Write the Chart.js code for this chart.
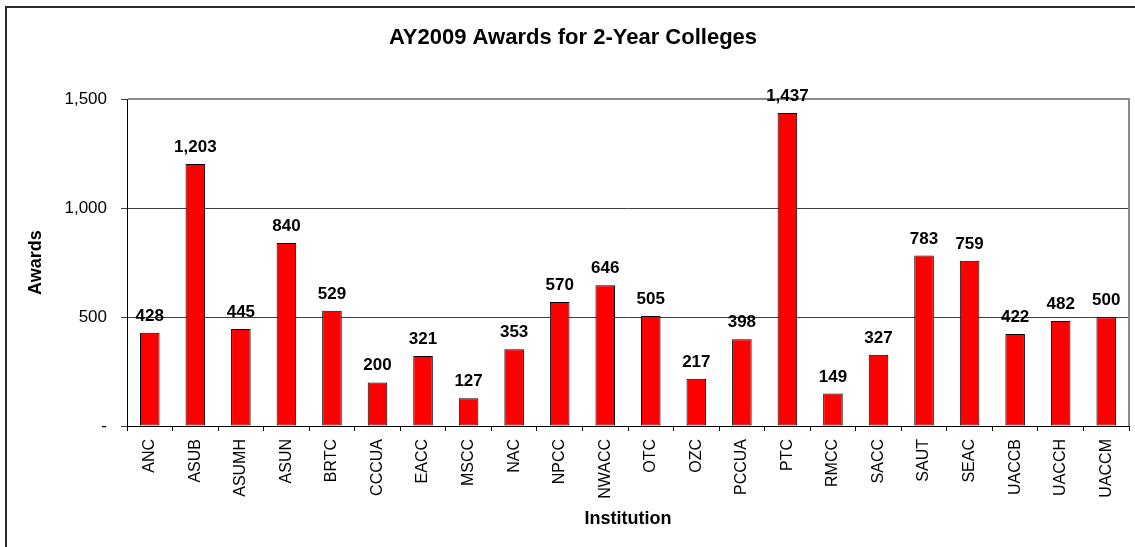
<!DOCTYPE html>
<html lang="en">
    <head>
        <meta charset="UTF-8">
        <title>AY2009 Awards for 2-Year Colleges</title>
        <script src="https://cdnjs.cloudflare.com/ajax/libs/Chart.js/4.4.1/chart.umd.min.js"></script>
        <style>
            html, body {
                margin: 0;
                padding: 0;
                background: #fff;
                overflow: hidden;
            }
            .frame {
                position: absolute;
                left: 5px;
                top: 6px;
                width: 1200px;
                height: 600px;
                border-left: 2px solid #2a2a2a;
                border-top: 2px solid #2a2a2a;
            }
            .wrap {
                position: absolute;
                left: 0;
                top: 0;
                width: 1135px;
                height: 547px;
            }
        </style>
    </head>
    <body>
        <div class="frame"></div>
        <div class="wrap">
            <canvas id="awardsChart" width="1135" height="547"></canvas>
        </div>
        <script>
            const institutions = ["ANC", "ASUB", "ASUMH", "ASUN", "BRTC", "CCCUA", "EACC", "MSCC", "NAC", "NPCC", "NWACC",
                "OTC", "OZC", "PCCUA", "PTC", "RMCC", "SACC", "SAUT", "SEAC", "UACCB", "UACCH", "UACCM"];
            const awards = [428, 1203, 445, 840, 529, 200, 321, 127, 353, 570, 646,
                505, 217, 398, 1437, 149, 327, 783, 759, 422, 482, 500];
            const yTicks = [0, 500, 1000, 1500];

            const fontFamily = "'Liberation Sans', Arial, sans-serif";

            function fmt(v) {
                return v === 0 ? "-" : v.toLocaleString("en-US");
            }

            // grey plot border on top/right, then the value labels above the bars
            const extras = {
                id: "extras",
                afterDraw(chart) {
                    const a = chart.chartArea;
                    const ctx = chart.ctx;
                    ctx.save();
                    ctx.strokeStyle = "#8c8c8c";
                    ctx.lineWidth = 2;
                    ctx.beginPath();
                    ctx.moveTo(a.left + 1, Math.round(a.top));
                    ctx.lineTo(Math.round(a.right), Math.round(a.top));
                    ctx.lineTo(Math.round(a.right), Math.round(a.bottom));
                    ctx.stroke();

                    const meta = chart.getDatasetMeta(0);
                    ctx.font = "bold 17px " + fontFamily;
                    ctx.fillStyle = "#000";
                    ctx.textAlign = "center";
                    ctx.textBaseline = "alphabetic";
                    meta.data.forEach(function (bar, i) {
                        ctx.fillText(fmt(awards[i]), bar.x, bar.y - 12);
                    });
                    ctx.restore();
                }
            };

            const chart = new Chart(document.getElementById("awardsChart"), {
                type: "bar",
                data: {
                    labels: institutions,
                    datasets: [
                        {
                            label: "Awards",
                            data: awards,
                            backgroundColor: "#ff0000",
                            borderColor: "#000",
                            borderWidth: 1,
                            borderSkipped: false,
                            barPercentage: 0.43,
                            categoryPercentage: 1
                        }
                    ]
                },
                options: {
                    responsive: false,
                    animation: false,
                    layout: {
                        padding: { left: 17, right: 6, top: 0, bottom: 0 }
                    },
                    plugins: {
                        legend: { display: false },
                        tooltip: { enabled: false },
                        title: {
                            display: true,
                            text: "AY2009 Awards for 2-Year Colleges",
                            color: "#000",
                            font: { family: fontFamily, size: 22, weight: "bold" },
                            padding: { top: 25, bottom: 48 }
                        }
                    },
                    scales: {
                        x: {
                            grid: {
                                offset: true,
                                drawOnChartArea: false,
                                tickLength: 5,
                                color: "#000"
                            },
                            border: { color: "#000", width: 1 },
                            ticks: {
                                autoSkip: false,
                                minRotation: 90,
                                maxRotation: 90,
                                padding: 8,
                                color: "#000",
                                font: { family: fontFamily, size: 16 }
                            },
                            title: {
                                display: true,
                                text: "Institution",
                                color: "#000",
                                font: { family: fontFamily, size: 18, weight: "bold" },
                                padding: { top: 0, bottom: 17 }
                            },
                            afterFit(scale) {
                                scale.height = 121;
                            }
                        },
                        y: {
                            min: 0,
                            max: 1500,
                            afterBuildTicks(scale) {
                                scale.ticks = yTicks.map(v => ({ value: v }));
                            },
                            grid: {
                                color: "#404040",
                                tickLength: 6
                            },
                            border: { color: "#000", width: 1 },
                            ticks: {
                                padding: 14,
                                color: "#000",
                                font: { family: fontFamily, size: 17 },
                                callback: function (v) { return fmt(v); }
                            },
                            title: {
                                display: true,
                                text: "Awards",
                                color: "#000",
                                font: { family: fontFamily, size: 18, weight: "bold" },
                                padding: { top: 8, bottom: 0 }
                            },
                            afterFit(scale) {
                                scale.width = 110;
                            }
                        }
                    }
                },
                plugins: [extras]
            });
        </script>
    </body>
</html>
